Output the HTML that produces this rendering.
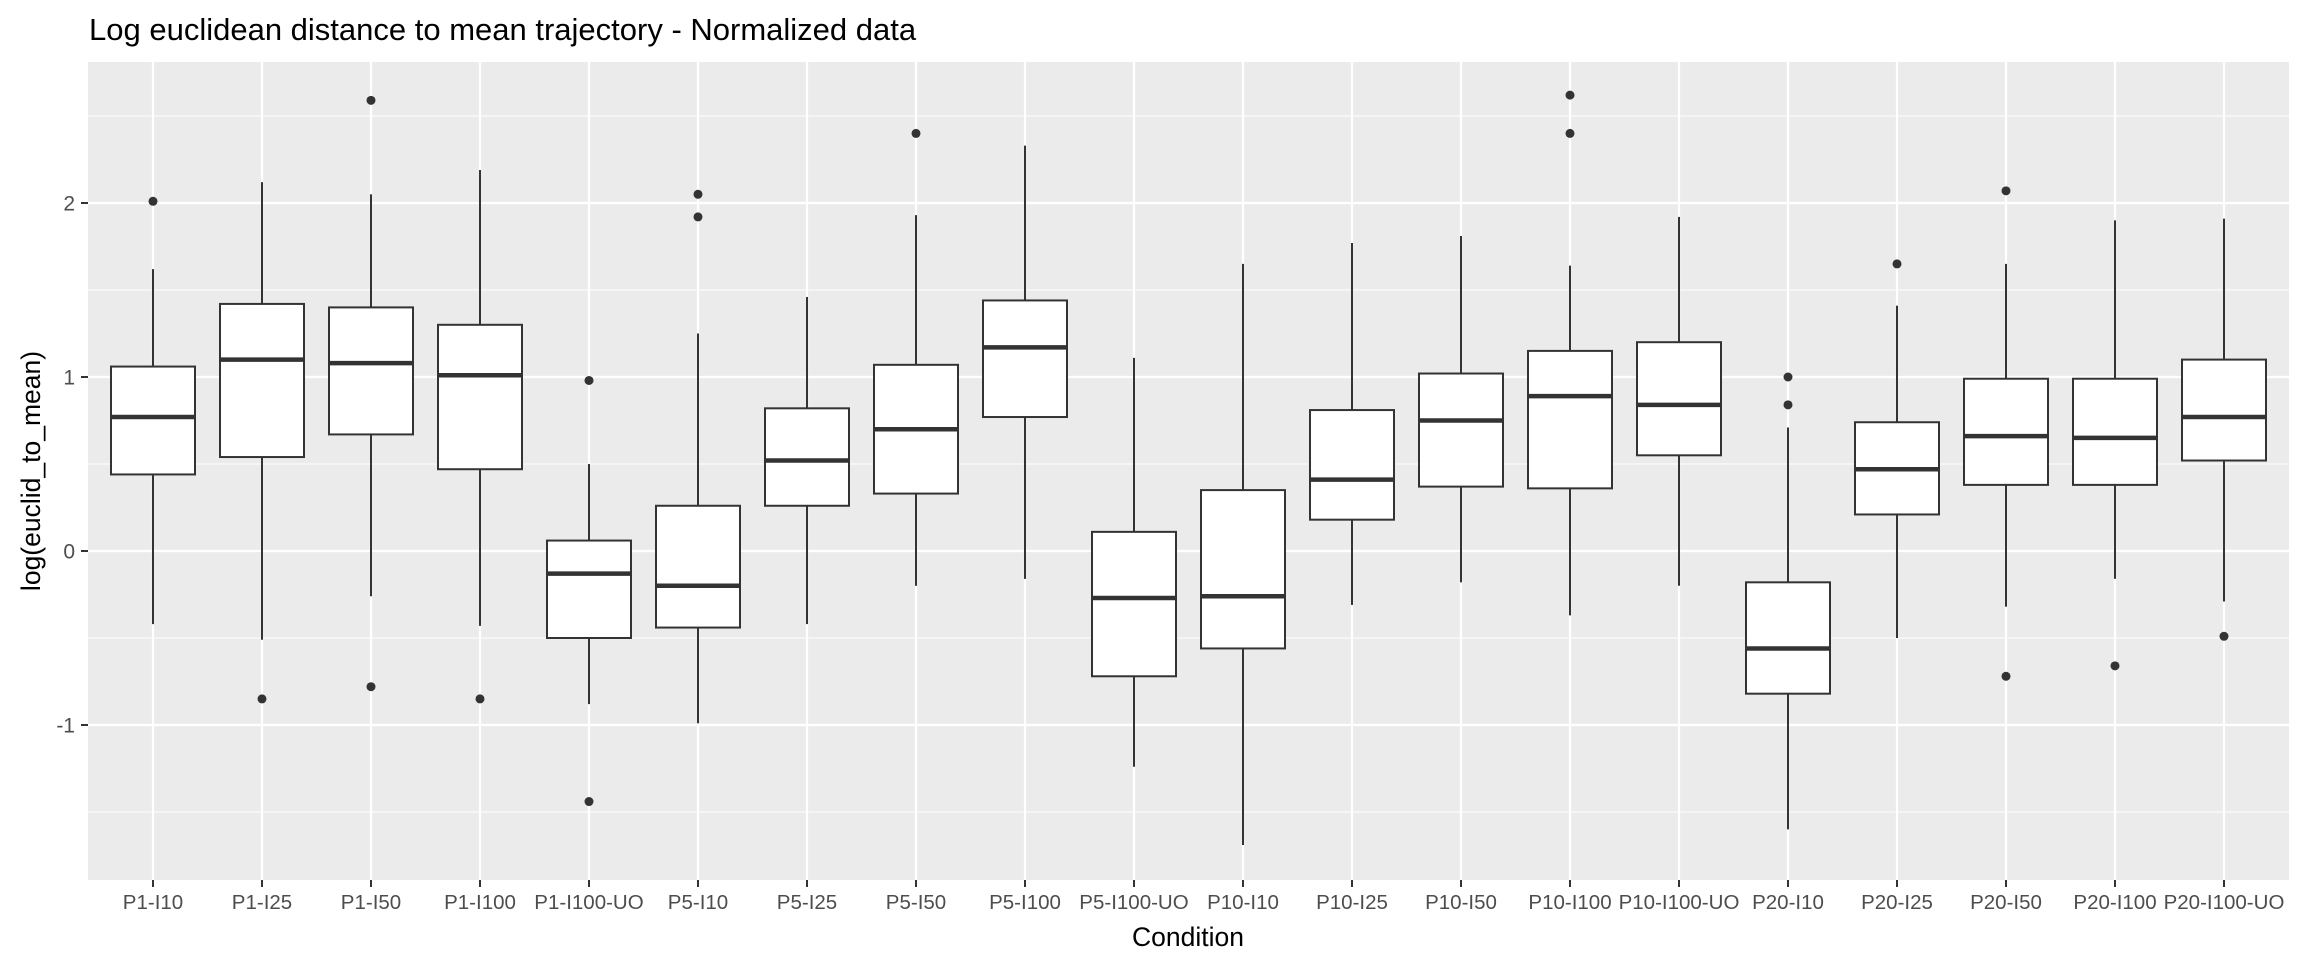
<!DOCTYPE html>
<html><head><meta charset="utf-8"><style>
body{margin:0;background:#fff;}
svg{display:block;font-family:"Liberation Sans",Arial,sans-serif;}
</style></head><body>
<svg id="chart" width="2304" height="960">
<text x="89" y="40" font-size="31" fill="#000">Log euclidean distance to mean trajectory - Normalized data</text>
<rect x="88" y="62" width="2201" height="818" fill="#ebebeb"/>
<g id="grid"></g><g id="boxes"></g><g id="axes"></g>
<text x="1188" y="946" font-size="26.5" text-anchor="middle" fill="#000">Condition</text>
<text transform="translate(40,471) rotate(-90)" font-size="26.5" text-anchor="middle" fill="#000">log(euclid_to_mean)</text>
</svg>
<script>
const categories=["P1-I10","P1-I25","P1-I50","P1-I100","P1-I100-UO","P5-I10","P5-I25","P5-I50","P5-I100","P5-I100-UO","P10-I10","P10-I25","P10-I50","P10-I100","P10-I100-UO","P20-I10","P20-I25","P20-I50","P20-I100","P20-I100-UO"];
const whiskerHigh=[1.62,2.12,2.05,2.19,0.50,1.25,1.46,1.93,2.33,1.11,1.65,1.77,1.81,1.64,1.92,0.71,1.41,1.65,1.90,1.91];
const q3=[1.06,1.42,1.40,1.30,0.06,0.26,0.82,1.07,1.44,0.11,0.35,0.81,1.02,1.15,1.20,-0.18,0.74,0.99,0.99,1.10];
const medians=[0.77,1.10,1.08,1.01,-0.13,-0.20,0.52,0.70,1.17,-0.27,-0.26,0.41,0.75,0.89,0.84,-0.56,0.47,0.66,0.65,0.77];
const q1=[0.44,0.54,0.67,0.47,-0.50,-0.44,0.26,0.33,0.77,-0.72,-0.56,0.18,0.37,0.36,0.55,-0.82,0.21,0.38,0.38,0.52];
const whiskerLow=[-0.42,-0.51,-0.26,-0.43,-0.88,-0.99,-0.42,-0.20,-0.16,-1.24,-1.69,-0.31,-0.18,-0.37,-0.20,-1.60,-0.50,-0.32,-0.16,-0.29];
const outliers=[[2.01],[-0.85],[2.59,-0.78],[-0.85],[0.98,-1.44],[2.05,1.92],[],[2.40],[],[],[],[],[],[2.62,2.40],[],[1.00,0.84],[1.65],[2.07,-0.72],[-0.66],[-0.49]];
const yTicks=[-1,0,1,2];
const yMinor=[-1.5,-0.5,0.5,1.5,2.5];

const NS="http://www.w3.org/2000/svg";
const L=88,R=2289,T=62,B=880;
const xs=i=>153+i*109;
const ys=v=>551-v*174;
function mk(tag,attrs,parent){const e=document.createElementNS(NS,tag);for(const k in attrs)e.setAttribute(k,attrs[k]);parent.appendChild(e);return e;}
const grid=document.getElementById('grid'),boxes=document.getElementById('boxes'),axes=document.getElementById('axes');
yMinor.forEach(v=>{const l=mk('line',{x1:L,x2:R,y1:ys(v),y2:ys(v),stroke:'#fff','stroke-width':1.1},grid);

});
yTicks.forEach(v=>{const l=mk('line',{x1:L,x2:R,y1:ys(v),y2:ys(v),stroke:'#fff','stroke-width':2.2},grid);


const t=mk('line',{x1:81,x2:88,y1:ys(v),y2:ys(v),stroke:'#333','stroke-width':2},axes);


const tx=mk('text',{x:75,y:ys(v)+7.5,'font-size':21,'text-anchor':'end',fill:'#4d4d4d'},axes);tx.textContent=v;

});
const bw=84;
categories.forEach((c,i)=>{const x=xs(i);
const g=mk('line',{x1:x,x2:x,y1:T,y2:B,stroke:'#fff','stroke-width':2.2},grid);


const grp=mk('g',{},boxes);


mk('line',{x1:x,x2:x,y1:ys(whiskerHigh[i]),y2:ys(q3[i]),stroke:'#333','stroke-width':2},grp);
mk('line',{x1:x,x2:x,y1:ys(q1[i]),y2:ys(whiskerLow[i]),stroke:'#333','stroke-width':2},grp);
mk('rect',{x:x-bw/2,y:ys(q3[i]),width:bw,height:ys(q1[i])-ys(q3[i]),fill:'#fff',stroke:'#333','stroke-width':2},grp);
mk('line',{x1:x-bw/2,x2:x+bw/2,y1:ys(medians[i]),y2:ys(medians[i]),stroke:'#333','stroke-width':4.5},grp);
outliers[i].forEach(v=>{const p=mk('circle',{cx:x,cy:ys(v),r:4.5,fill:'#333'},grp);

});
const t=mk('line',{x1:x,x2:x,y1:B,y2:B+7,stroke:'#333','stroke-width':2},axes);


const tx=mk('text',{x:x,y:909,'font-size':20.5,'text-anchor':'middle',fill:'#4d4d4d'},axes);tx.textContent=c;

});
</script>
</body></html>
